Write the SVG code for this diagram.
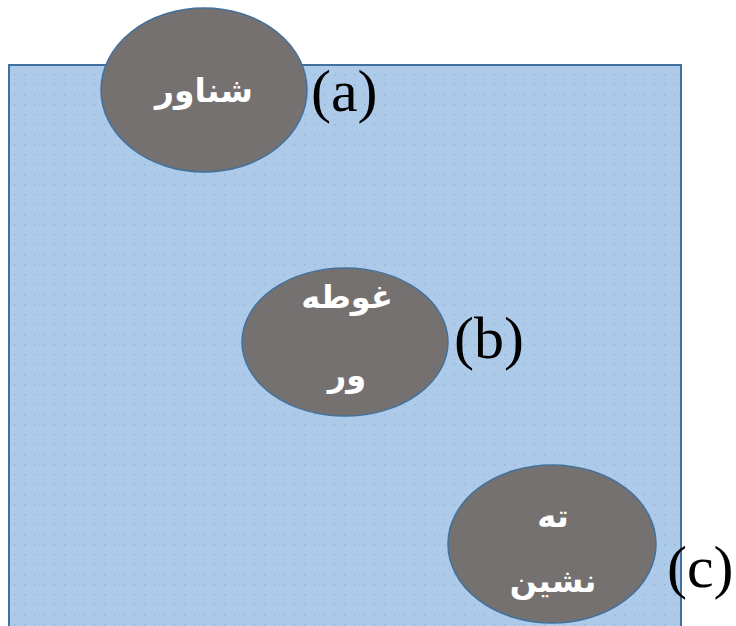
<svg xmlns="http://www.w3.org/2000/svg" width="736" height="626" viewBox="0 0 736 626">
<defs>
<pattern id="dots" x="0" y="0" width="10" height="10" patternUnits="userSpaceOnUse">
<rect x="4" y="4" width="1.4" height="1.4" fill="#8fb4da"/>
</pattern>
<style>
.node{fill:#757171;stroke:#41719c;stroke-width:1.5}
.fa{font-family:"DejaVu Sans",sans-serif;font-weight:bold;fill:#ffffff;text-anchor:middle;direction:rtl}
.lbl{font-family:"Liberation Serif",serif;fill:#000000;font-size:60px}
</style>
</defs>
<rect width="736" height="626" fill="#ffffff"/>
<g id="container">
<rect x="9" y="65" width="672" height="570" fill="#adcbe9" stroke="#41719c" stroke-width="2"/>
<rect x="10" y="66" width="670" height="568" fill="url(#dots)"/>
</g>
<g id="node-a">
<ellipse class="node" cx="204" cy="90" rx="103" ry="82"/>
<text class="fa" x="204" y="102" font-size="33">شناور</text>
</g>
<g id="label-a"><text class="lbl" x="311" y="111">(a)</text></g>
<g id="node-b">
<ellipse class="node" cx="345" cy="342" rx="103" ry="74"/>
<text class="fa" x="347" y="308" font-size="32">غوطه</text>
<text class="fa" x="347" y="386" font-size="32">ور</text>
</g>
<g id="label-b"><text class="lbl" x="454" y="358">(b)</text></g>
<g id="node-c">
<ellipse class="node" cx="552" cy="544" rx="104" ry="79"/>
<text class="fa" x="553" y="527" font-size="32">ته</text>
<text class="fa" x="553" y="592" font-size="32">نشین</text>
</g>
<g id="label-c"><text class="lbl" x="667" y="587">(c)</text></g>
<g id="connectors"/>
</svg>
